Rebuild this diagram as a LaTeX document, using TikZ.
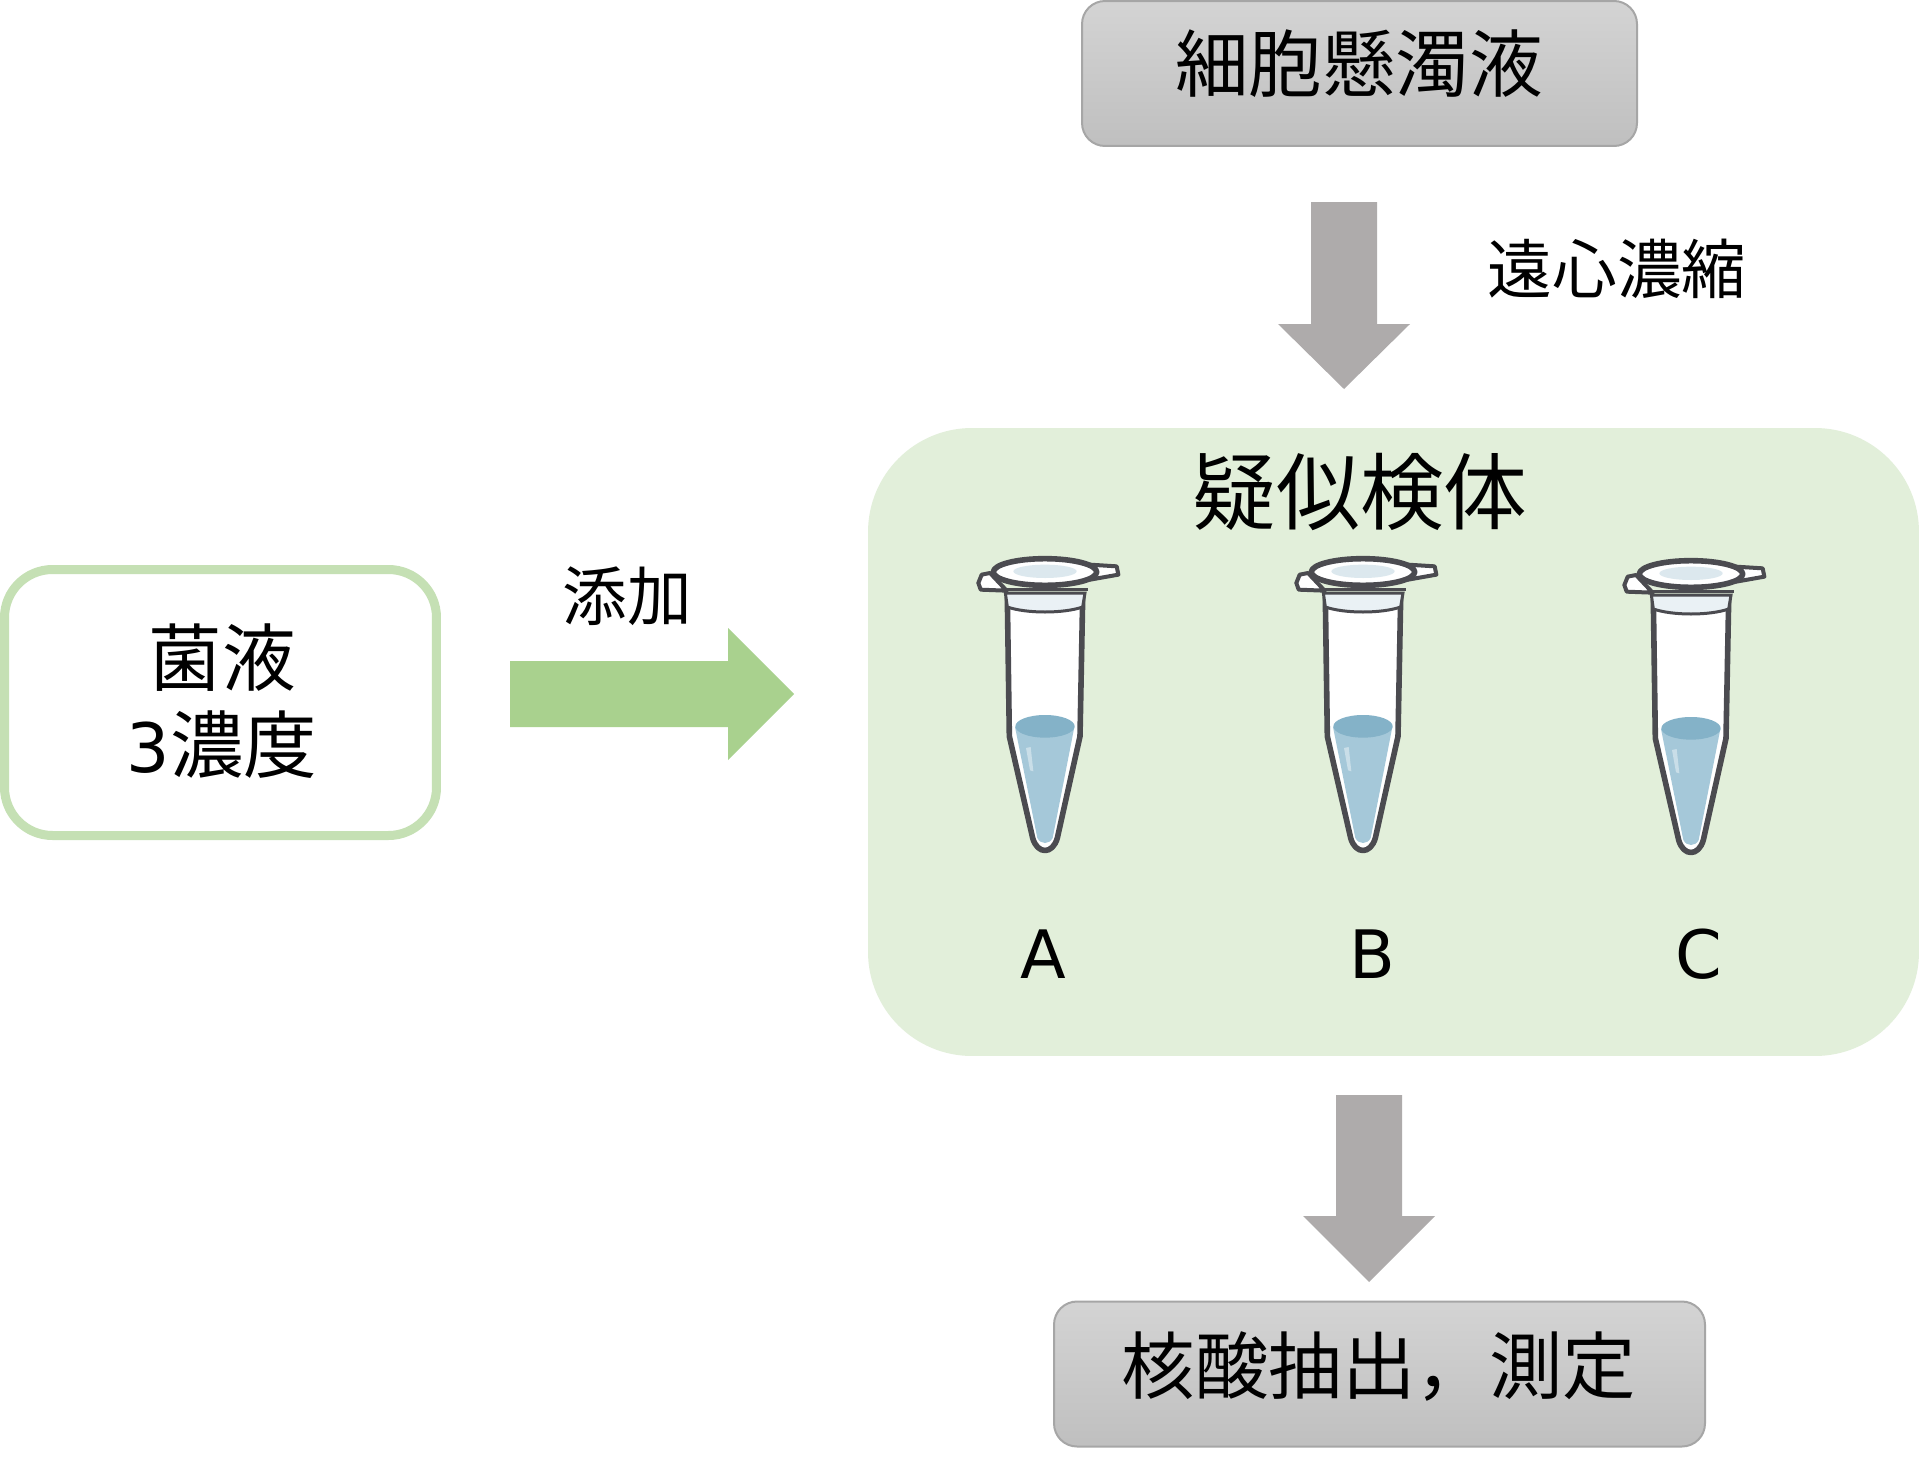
\documentclass[tikz,border=0pt]{standalone}
\usepackage{fontspec}
\setmainfont{DejaVu Sans}
\newfontfamily\jp{Noto Sans CJK JP}
\usetikzlibrary{calc}
\definecolor{grayedge}{HTML}{A6A6A6}
\definecolor{grayarrow}{HTML}{AEABAB}
\definecolor{panelgreen}{HTML}{E2EFDA}
\definecolor{edgegreen}{HTML}{C5E0B4}
\definecolor{arrowgreen}{HTML}{A9D18E}
\definecolor{tubeline}{HTML}{4B4B50}
\definecolor{liquid}{HTML}{A5C8D9}
\definecolor{liquidtop}{HTML}{84B2C8}
\definecolor{capblue}{HTML}{DCE8EE}
\newcommand{\blockarrow}[4]{%
  \coordinate (neck) at ($(#2)!#3 cm!(#1)$);
  \fill[#4] ($(#1)!1.65cm!90:(#2)$) -- ($(neck)!1.65cm!90:(#2)$) -- ($(neck)!3.3cm!90:(#2)$) -- (#2)
    -- ($(neck)!3.3cm!-90:(#2)$) -- ($(neck)!1.65cm!-90:(#2)$) -- ($(#1)!1.65cm!-90:(#2)$) -- cycle;
}
\tikzset{
  x=0.05cm,y=-0.05cm,
  graybox/.style={draw=grayedge,line width=0.1cm,rounded corners=1.15cm,top color=black!17,bottom color=black!25,inner sep=0pt},
  plain/.style={inner sep=0pt,text=black},
  tubeedge/.style={draw=tubeline,line width=0.28cm,line join=round},
  tube/.pic={
    \begin{scope}[scale=1/3,shift={(-285,-85)}]
      % body
      \path[fill=white,tubeedge] (172,205) -- (178,620) -- (248,925) .. controls (262,975) and (308,975) .. (322,925) -- (390,620) -- (398,205) -- cycle;
      % liquid
      \fill[liquid] (195,592) -- (262,925) .. controls (272,945) and (298,945) .. (308,925) -- (373,592) -- cycle;
      \fill[liquidtop] (285,590) ellipse [x radius=89,y radius=34];
      \fill[white,opacity=.4] (228,655) -- (242,652) -- (250,725) -- (240,722) -- cycle;
      % collar
      \path[fill=capblue!60!white,draw=tubeline,line width=0.15cm] (166,190) -- (172,232) .. controls (230,252) and (340,252) .. (398,232) -- (405,190) -- cycle;
      % tabs
      \path[fill=white,draw=tubeline,line width=0.2cm,line join=round] (120,130) -- (95,135) -- (85,160) -- (92,180) -- (170,183) -- cycle;
      \path[fill=white,draw=tubeline,line width=0.2cm,line join=round] (420,105) -- (500,110) -- (505,135) -- (420,150) -- cycle;
      % cap
      \path[fill=white,tubeedge] (285,127) ellipse [x radius=155,y radius=40];
      \fill[capblue] (285,125) ellipse [x radius=95,y radius=20];
      \draw[tubeline,line width=0.15cm] (155,178) -- (415,178);
    \end{scope}
  }
}
\begin{document}
\begin{tikzpicture}
\useasboundingbox[fill=white] (0,0) rectangle (1919,1464);

% boxes
\node[graybox,minimum width=27.75cm,minimum height=7.25cm] (cells) at (1359.5,73.5) {};
\node[plain,font=\jp\fontsize{104.5}{120}\selectfont] (cellstext) at (1359,64) {細胞懸濁液};
\node[graybox,minimum width=32.55cm,minimum height=7.25cm] (extract) at (1379.5,1374) {};
\node[plain,font=\jp\fontsize{104.5}{120}\selectfont] (extracttext) at (1379,1366) {核酸抽出，測定};
\node[fill=panelgreen,rounded corners=5.2cm,minimum width=52.55cm,minimum height=31.4cm,inner sep=0pt] (panel) at (1393.5,742) {};
\node[draw=edgegreen,fill=white,line width=0.45cm,rounded corners=2.4cm,minimum width=21.6cm,minimum height=13.3cm,inner sep=0pt] (bac) at (220.5,702.5) {};

% texts
\node[plain,font=\jp\fontsize{104.5}{122}\selectfont] (bactext1) at (222,658) {菌液};
\node[plain,font=\jp\fontsize{104.5}{122}\selectfont] (bactext2) at (222,745) {{\rmfamily\fontsize{97}{110}\selectfont 3}濃度};
\node[plain,font=\jp\fontsize{92}{110}\selectfont] (conc) at (1617,269) {遠心濃縮};
\node[plain,font=\jp\fontsize{92}{110}\selectfont] (add) at (627,596) {添加};
\node[plain,font=\jp\fontsize{119}{140}\selectfont] (pseudo) at (1360,492) {疑似検体};
\node[plain,font=\fontsize{95}{110}\selectfont] (la) at (1043,954) {A};
\node[plain,font=\fontsize{95}{110}\selectfont] (lb) at (1372,954) {B};
\node[plain,font=\fontsize{95}{110}\selectfont] (lc) at (1699,954) {C};

% tubes
\pic at (1045,558) {tube};
\pic at (1363,558) {tube};
\pic at (1691,560) {tube};

% block arrows
\coordinate (a1s) at (1344,202); \coordinate (a1e) at (1344,389);
\coordinate (a2s) at (510,694);  \coordinate (a2e) at (794,694);
\coordinate (a3s) at (1369,1095); \coordinate (a3e) at (1369,1282);
\blockarrow{a1s}{a1e}{3.25}{grayarrow}
\blockarrow{a2s}{a2e}{3.3}{arrowgreen}
\blockarrow{a3s}{a3e}{3.3}{grayarrow}
\end{tikzpicture}
\end{document}
